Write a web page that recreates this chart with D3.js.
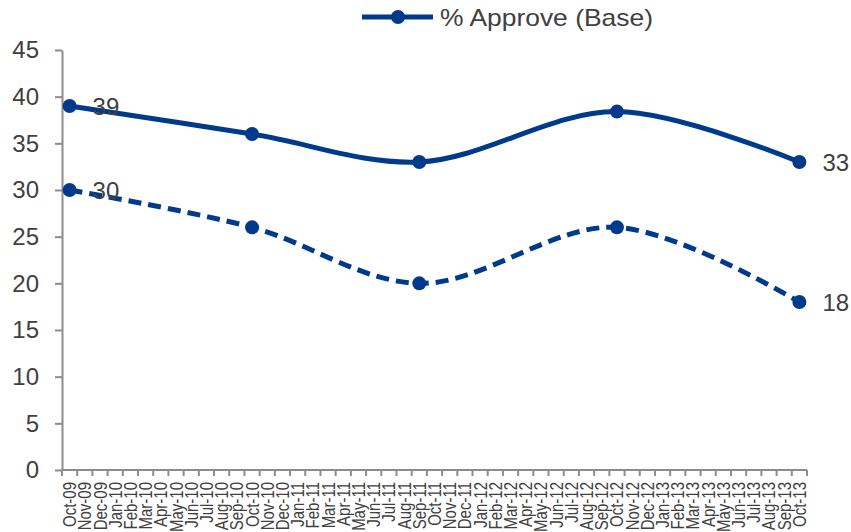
<!DOCTYPE html>
<html>
<head>
<meta charset="utf-8">
<script src="https://cdn.jsdelivr.net/npm/d3@7"></script>
<style>
  html, body { margin: 0; padding: 0; background: #ffffff; }
  svg { display: block; font-family: "Liberation Sans", Arial, sans-serif; }
</style>
</head>
<body>
<svg id="chart" width="851" height="532"></svg>
<script>
const categories = [
  "Oct-09","Nov-09","Dec-09","Jan-10","Feb-10","Mar-10","Apr-10","May-10","Jun-10","Jul-10","Aug-10","Sep-10",
  "Oct-10","Nov-10","Dec-10","Jan-11","Feb-11","Mar-11","Apr-11","May-11","Jun-11","Jul-11","Aug-11","Sep-11",
  "Oct-11","Nov-11","Dec-11","Jan-12","Feb-12","Mar-12","Apr-12","May-12","Jun-12","Jul-12","Aug-12","Sep-12",
  "Oct-12","Nov-12","Dec-12","Jan-13","Feb-13","Mar-13","Apr-13","May-13","Jun-13","Jul-13","Aug-13","Sep-13",
  "Oct-13"
];
const pointMonths = ["Oct-09", "Oct-10", "Sep-11", "Oct-12", "Oct-13"];
const approveBase = [39, 36, 33, 38.4, 33];
const approveDashed = [30, 26, 20, 26, 18];
const yTicks = [0, 5, 10, 15, 20, 25, 30, 35, 40, 45];
const legendLabel = "% Approve (Base)";

const color = "#003a8c";
const textColor = "#404040";
const axisColor = "#8c8c8c";

const svg = d3.select("#chart");
const x = d3.scaleBand().domain(categories).range([62, 807]).padding(0);
const y = d3.scaleLinear().domain([0, 45]).range([470, 50]);
const cx = c => x(c) + x.bandwidth() / 2;

// Y axis
const yAxis = svg.append("g").attr("transform", "translate(62,0)")
  .call(d3.axisLeft(y).tickValues(yTicks).tickSize(7).tickPadding(16).tickSizeOuter(0));
yAxis.select(".domain").attr("stroke", axisColor).attr("stroke-width", 2);
yAxis.selectAll(".tick line").attr("stroke", axisColor).attr("stroke-width", 2);
yAxis.selectAll(".tick text").attr("fill", textColor).style("font-size", "24px")
  .style("font-family", "'Liberation Sans', Arial, sans-serif");

// X axis
const xAxis = svg.append("g").attr("transform", "translate(0,470)");
xAxis.append("line").attr("x1", 62).attr("x2", 807).attr("y1", 0).attr("y2", 0)
  .attr("stroke", axisColor).attr("stroke-width", 2);
const bounds = categories.map(c => x(c)).concat([x.range()[1]]);
xAxis.selectAll("line.tk").data(bounds).enter().append("line")
  .attr("class", "tk")
  .attr("x1", d => d).attr("x2", d => d).attr("y1", 0).attr("y2", 6)
  .attr("stroke", axisColor).attr("stroke-width", 2);
xAxis.selectAll("text.lbl").data(categories).enter().append("text")
  .attr("class", "lbl")
  .attr("transform", d => `translate(${cx(d) + 6.5},12) rotate(-90) scale(1,1.22)`)
  .attr("text-anchor", "end")
  .attr("fill", textColor)
  .style("font-size", "15px")
  .text(d => d);

// Lines
const pts = (vals) => pointMonths.map((m, i) => ({ m, v: vals[i] }));
const line = d3.line().x(d => cx(d.m)).y(d => y(d.v)).curve(d3.curveCatmullRom.alpha(0.5));

svg.append("path").datum(pts(approveBase)).attr("d", line)
  .attr("fill", "none").attr("stroke", color).attr("stroke-width", 5);
svg.append("path").datum(pts(approveDashed)).attr("d", line)
  .attr("fill", "none").attr("stroke", color).attr("stroke-width", 5)
  .attr("stroke-dasharray", "13,7");

[approveBase, approveDashed].forEach(vals => {
  svg.append("g").selectAll("circle").data(pts(vals)).enter().append("circle")
    .attr("cx", d => cx(d.m)).attr("cy", d => y(d.v)).attr("r", 7).attr("fill", color);
  const lab = pts(vals).filter((d, i) => i === 0 || i === vals.length - 1);
  svg.append("g").selectAll("text").data(lab).enter().append("text")
    .attr("x", d => cx(d.m) + 23).attr("y", d => y(d.v))
    .attr("dy", "0.36em").attr("fill", textColor).style("font-size", "24px")
    .text(d => d3.format("d")(d.v));
});

// Legend
const lg = svg.append("g");
lg.append("line").attr("x1", 362).attr("x2", 433).attr("y1", 17).attr("y2", 17)
  .attr("stroke", color).attr("stroke-width", 5);
lg.append("circle").attr("cx", 398).attr("cy", 17).attr("r", 7).attr("fill", color);
lg.append("text").attr("x", 440).attr("y", 17).attr("dy", "0.36em")
  .attr("textLength", 213).attr("lengthAdjust", "spacingAndGlyphs")
  .attr("fill", textColor).style("font-size", "24px").text(legendLabel);
</script>
</body>
</html>
